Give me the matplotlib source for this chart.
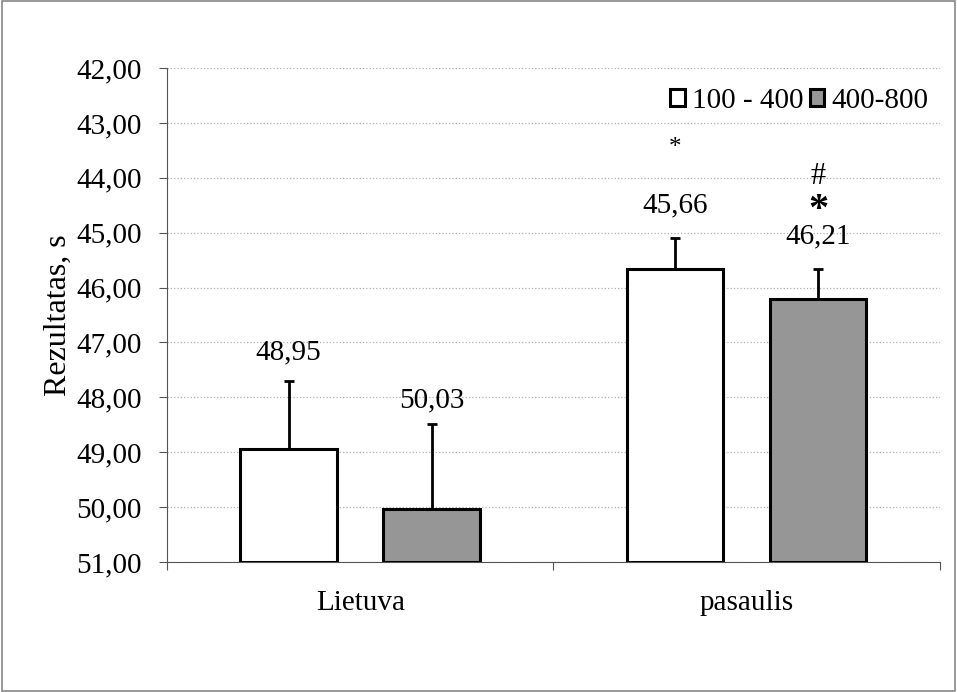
import numpy as np
import matplotlib
matplotlib.use('Agg')
import matplotlib.pyplot as plt
from matplotlib.ticker import FuncFormatter

plt.rcParams['font.family'] = ['Liberation Serif', 'DejaVu Serif']

categories = ['Lietuva', 'pasaulis']
series = ['100 - 400', '400-800']
means = {'100 - 400': [48.95, 45.66], '400-800': [50.03, 46.21]}
errors = {'100 - 400': [1.25, 0.57], '400-800': [1.55, 0.55]}
label_pos = {'100 - 400': [47.19, 44.51], '400-800': [48.05, 45.07]}
colors = {'100 - 400': 'white', '400-800': '#969696'}
base = 51.0

fs = 21
fig = plt.figure(figsize=(9.57, 6.92), dpi=100)
ax = fig.add_axes([0.1745, 0.188, 0.8075, 0.7137])

x = np.arange(len(categories))
w = 0.25
offsets = [-0.185, 0.185]
for s, off in zip(series, offsets):
    v = np.array(means[s])
    e = np.array(errors[s])
    ax.bar(x + off, v - base, bottom=base, width=w, color=colors[s],
           edgecolor='black', linewidth=2.2, label=s, zorder=3)
    ax.errorbar(x + off, v, yerr=[e, np.zeros_like(e)], fmt='none',
                ecolor='black', elinewidth=2, capsize=3.5, capthick=2, zorder=4)
    for xi, val, ly in zip(x + off, v, label_pos[s]):
        ax.text(xi, ly, f'{val:.2f}'.replace('.', ','), ha='center', va='center',
                fontsize=fs)

# significance marks
ax.text(x[1] + offsets[0], 43.45, '*', ha='center', va='center', fontsize=18)
ax.text(x[1] + offsets[1], 43.98, '#', ha='center', va='center', fontsize=22)
ax.text(x[1] + offsets[1], 44.6, '*', ha='center', va='center', fontsize=29,
        fontweight='bold')

ax.set_ylim(51, 42)
ax.set_yticks(np.arange(42, 52, 1))
ax.yaxis.set_major_formatter(FuncFormatter(lambda v, p: f'{v:.2f}'.replace('.', ',')))
ax.set_xlim(-0.5, 1.5)
ax.set_xticks([-0.5, 0.5, 1.5])
ax.set_xticklabels([])
ax.set_xticks(x, minor=True)
ax.set_xticklabels(categories, minor=True)
ax.tick_params(axis='x', which='minor', length=0, pad=20, labelsize=fs)
ax.tick_params(axis='x', which='major', length=6, color='#555555')
ax.tick_params(axis='y', length=6, color='#555555', labelsize=fs, pad=12)
ax.grid(axis='y', color='#b0b0b0', linestyle=':', linewidth=0.9, zorder=0)
for sp in ['top', 'right']:
    ax.spines[sp].set_visible(False)
for sp in ['left', 'bottom']:
    ax.spines[sp].set_color('#555555')
ax.set_ylabel('Rezultatas, s', fontsize=23, labelpad=3)

ax.legend(loc='upper right', bbox_to_anchor=(1.008, 0.995), ncol=2, frameon=False,
          fontsize=fs, handlelength=0.5, handleheight=0.5, handletextpad=0.25,
          columnspacing=0.2, borderaxespad=0.2)

fig.patches.append(plt.Rectangle((0.002, 0.002), 0.996, 0.996, transform=fig.transFigure,
                                 fill=False, edgecolor='#888888', linewidth=1.2))

fig.savefig('out.png', dpi=100)
